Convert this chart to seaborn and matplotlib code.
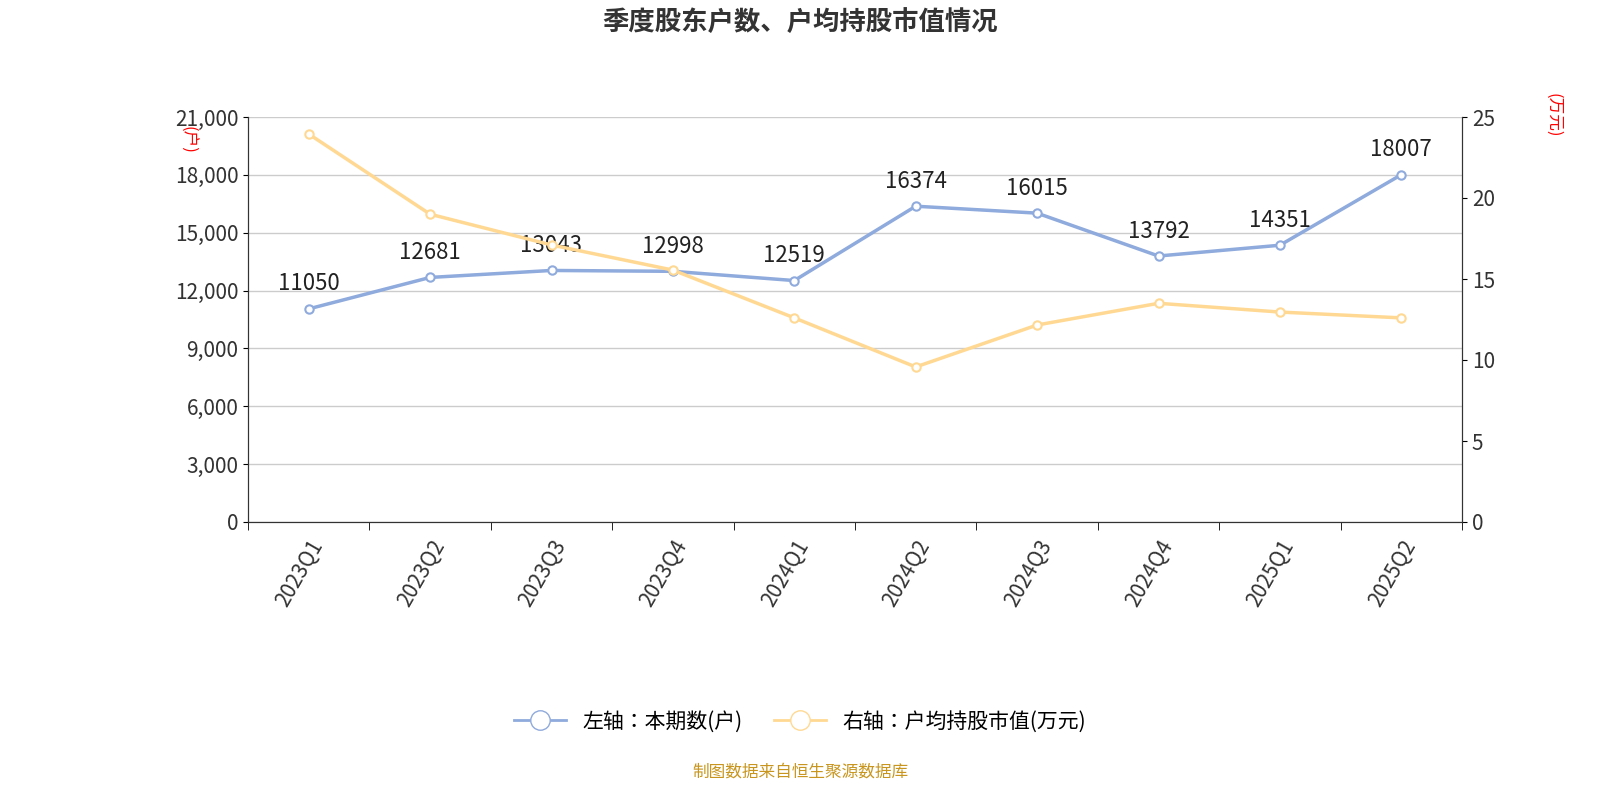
import matplotlib
matplotlib.use("Agg")
import matplotlib.pyplot as plt
import seaborn as sns
import pandas as pd

plt.rcParams["font.family"] = ["Noto Sans CJK JP", "Noto Sans CJK SC", "Noto Sans CJK TC", "Noto Sans CJK KR", "DejaVu Sans"]

quarters = ["2023Q1","2023Q2","2023Q3","2023Q4","2024Q1","2024Q2","2024Q3","2024Q4","2025Q1","2025Q2"]
holders = [11050,12681,13043,12998,12519,16374,16015,13792,14351,18007]
avg_value = [23.95,19.0,17.1,15.55,12.6,9.57,12.16,13.5,12.96,12.6]

df = pd.DataFrame({"q": quarters, "x": range(len(quarters)), "h": holders, "v": avg_value})
blue = "#8faadc"; yellow = "#ffd993"

fig = plt.figure(figsize=(16, 8), dpi=100)
ax = fig.add_axes([248/1600, 1-522/800, (1462-248)/1600, (522-117)/800])
ax2 = ax.twinx()

sns.lineplot(data=df, x="x", y="h", ax=ax, color=blue, lw=2.5, marker="o",
             markersize=6, markerfacecolor="white", markeredgecolor=blue, markeredgewidth=1.5)
sns.lineplot(data=df, x="x", y="v", ax=ax2, color=yellow, lw=2.5, marker="o",
             markersize=6, markerfacecolor="white", markeredgecolor=yellow, markeredgewidth=1.5)
for x, h in zip(df["x"], holders):
    ax.text(x, h + 700, str(h), ha="center", va="bottom", fontsize=16, color="#222")

ax.set_xlim(-0.5, len(quarters) - 0.5)
ax.set_ylim(0, 21000)
ax2.set_ylim(0, 25)
ax.set_yticks(range(0, 21001, 3000))
ax.set_yticklabels([f"{v:,}" for v in range(0, 21001, 3000)], fontsize=15, color="#333")
ax2.set_yticks(range(0, 26, 5))
ax2.set_yticklabels([str(v) for v in range(0, 26, 5)], fontsize=15, color="#333")
ax.set_xticks(df["x"])
ax.set_xticklabels(quarters, rotation=60, fontsize=15, color="#333", ha="right", rotation_mode="anchor")
ax.set_xticks([i - 0.5 for i in range(len(quarters) + 1)], minor=True)
ax.tick_params(axis="x", which="major", length=0, pad=10)
ax.tick_params(axis="x", which="minor", length=6)
ax.grid(axis="y", color="#cccccc", lw=1)
ax.set_axisbelow(True)
ax.set_xlabel(""); ax.set_ylabel(""); ax2.set_ylabel("")
for a in (ax, ax2):
    a.spines["top"].set_visible(False)
    a.spines["left"].set_color("#333")
    a.spines["right"].set_color("#333")
    a.spines["bottom"].set_color("#333")
ax.text(-0.05, 0.92, "(户)", transform=ax.transAxes, rotation=-90, color="red", fontsize=12, ha="center")
ax2.text(1.075, 0.96, "(万元)", transform=ax.transAxes, rotation=-90, color="red", fontsize=12, ha="center")

fig.text(0.5, 0.972, "季度股东户数、户均持股市值情况", ha="center", va="center", fontsize=19, weight="bold", color="#333")
fig.text(0.5, 0.035, "制图数据来自恒生聚源数据库", ha="center", va="center", fontsize=12, color="#c8961e")

from matplotlib.lines import Line2D
handles = [Line2D([], [], color=blue, lw=2, marker="o", markersize=14, markerfacecolor="white", markeredgecolor=blue),
           Line2D([], [], color=yellow, lw=2, marker="o", markersize=14, markerfacecolor="white", markeredgecolor=yellow)]
fig.legend(handles, ["左轴：本期数(户)", "右轴：户均持股市值(万元)"], loc="center", bbox_to_anchor=(0.5, 0.098),
           ncol=2, frameon=False, fontsize=15, handlelength=2.5, columnspacing=1.5)

fig.savefig("out.png", dpi=100)
